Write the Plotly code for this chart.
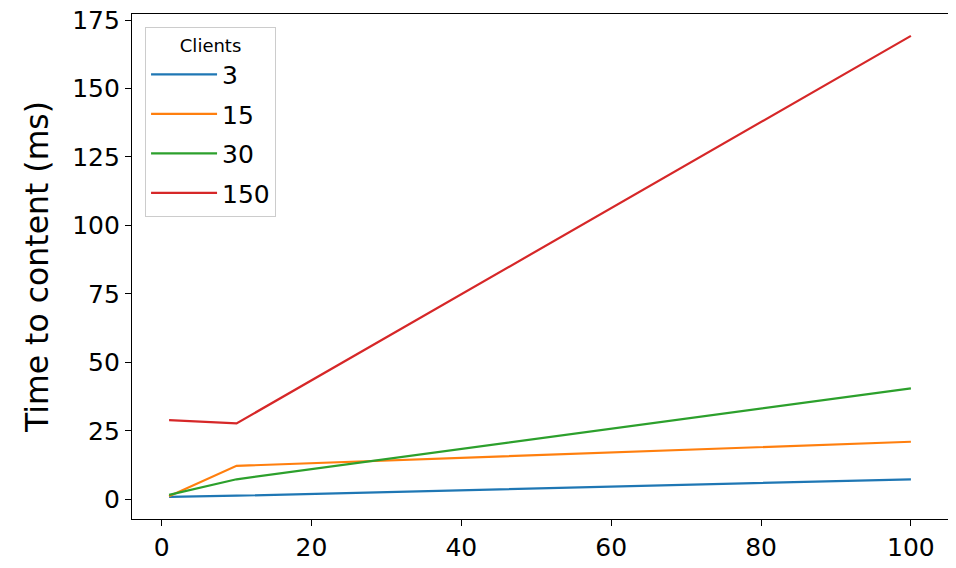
import plotly.graph_objects as go

x_vals = [1, 10, 100]
series_names = ["3", "15", "30", "150"]
series_values = {
    "3": [0.9, 1.3, 7.3],
    "15": [1.1, 12.2, 21.0],
    "30": [1.6, 7.3, 40.5],
    "150": [28.9, 27.7, 169.2],
}
colors = ["#1f77b4", "#ff7f0e", "#2ca02c", "#d62728"]
y_ticks = [0, 25, 50, 75, 100, 125, 150, 175]
x_ticks = [0, 20, 40, 60, 80, 100]

fig = go.Figure()
for i, name in enumerate(series_names):
    fig.add_trace(go.Scatter(
        x=x_vals, y=series_values[name], mode="lines", name=name,
        legendgroup=name,
        line=dict(color=colors[i], width=2.2),
    ))

font_family = "DejaVu Sans"
fig.update_layout(
    width=948, height=560,
    margin=dict(l=124, r=8, t=6, b=49, autoexpand=False),
    paper_bgcolor="white", plot_bgcolor="white",
    font=dict(family=font_family, color="black", size=25),
    legend=dict(
        x=0.016, y=0.974, xanchor="left", yanchor="top",
        bgcolor="white", bordercolor="#cccccc", borderwidth=1,
        font=dict(size=25),
        title=dict(text="Clients", side="top center", font=dict(size=18)),
        tracegroupgap=4, itemwidth=66,
    ),
    showlegend=True,
)
fig.update_xaxes(
    range=[-3.95, 104.95], tickvals=x_ticks, ticktext=[str(v) for v in x_ticks],
    showgrid=False, zeroline=False, showline=True, linecolor="black", linewidth=1.2,
    mirror=True, ticks="outside", ticklen=6, tickwidth=1.2, tickcolor="black",
    tickfont=dict(size=25), automargin=False, ticklabeloverflow="allow",
)
fig.update_yaxes(
    range=[-7.2, 177.2], tickvals=y_ticks, ticktext=[str(v) for v in y_ticks],
    showgrid=False, zeroline=False, showline=True, linecolor="black", linewidth=1.2,
    mirror=True, ticks="outside", ticklen=6, tickwidth=1.2, tickcolor="black",
    tickfont=dict(size=25), automargin=False, ticklabeloverflow="allow",
    title=dict(text="Time to content (ms)", font=dict(size=31.5), standoff=14),
)
fig.add_annotation(
    text="Load (kbytes)", xref="paper", yref="paper", x=0.5, y=-0.083,
    xanchor="center", yanchor="top", showarrow=False, font=dict(size=31.5),
)
fig.write_html("out.html")
